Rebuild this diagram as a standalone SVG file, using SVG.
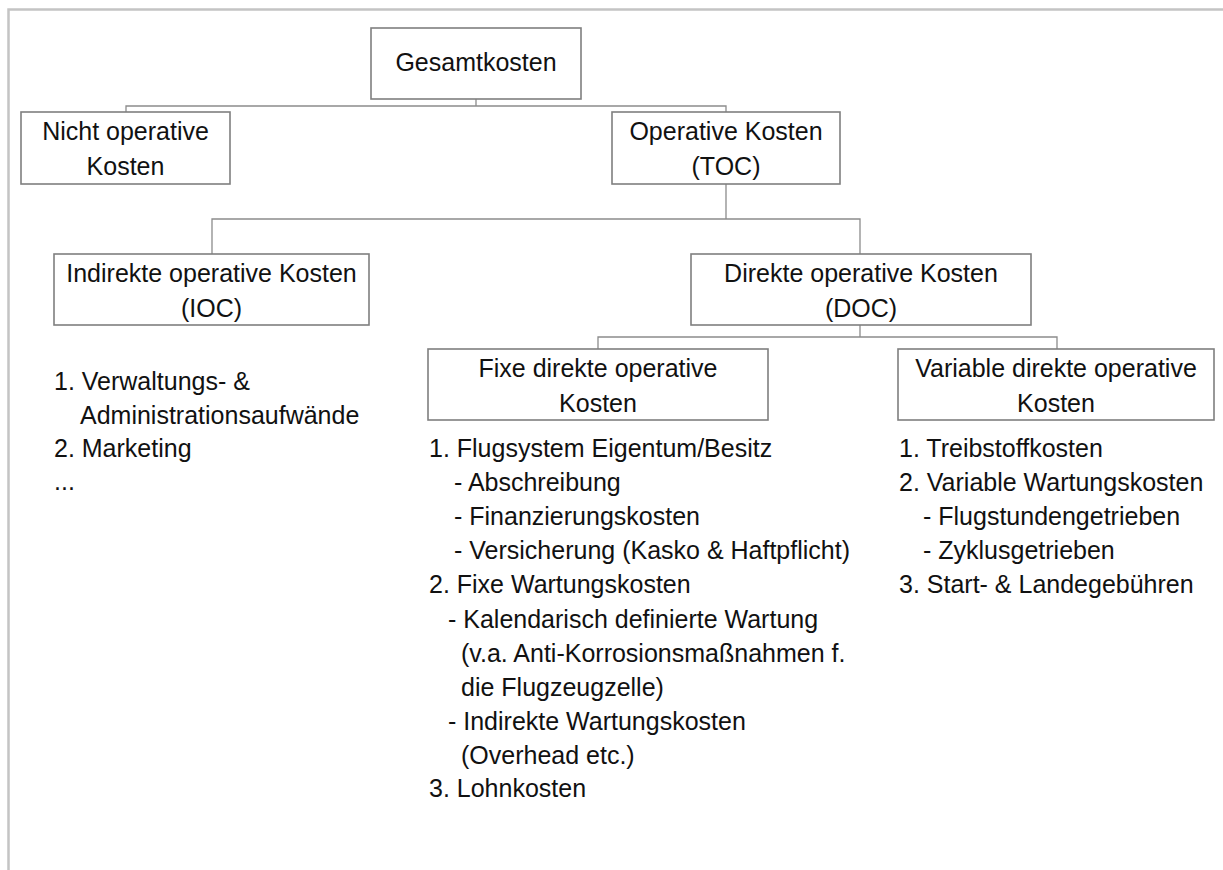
<svg xmlns="http://www.w3.org/2000/svg" width="1223" height="870" viewBox="0 0 1223 870">
<style>
  .frame { stroke: #c4c4c4; stroke-width: 2.5; fill: none; }
  .box { fill: #ffffff; stroke: #7f7f7f; stroke-width: 1.6; }
  .conn { stroke: #8c8c8c; stroke-width: 1.3; fill: none; }
  text { font-family: "Liberation Sans", Arial, sans-serif; font-size: 25px; fill: #111111; }
  .c { text-anchor: middle; }
</style>
<rect width="1223" height="870" fill="#ffffff"/>
<path class="frame" d="M 8.5 870 L 8.5 9.5 L 1223 9.5"/>

<g id="connectors">
  <path class="conn" d="M 476 99 V 106 M 126 112 V 106 H 726 V 112"/>
  <path class="conn" d="M 726 184 V 219 M 212 254 V 219 H 860 V 254"/>
  <path class="conn" d="M 860 325 V 337 M 598 349 V 337 H 1057 V 349"/>
</g>

<g id="gesamtkosten">
  <rect class="box" x="371" y="28" width="210" height="71"/>
  <text class="c" x="476" y="71">Gesamtkosten</text>
</g>

<g id="nicht-operative">
  <rect class="box" x="21" y="112" width="209" height="72"/>
  <text class="c" x="125.5" y="140">Nicht operative</text>
  <text class="c" x="125.5" y="175">Kosten</text>
</g>

<g id="toc">
  <rect class="box" x="612" y="112" width="228" height="72"/>
  <text class="c" x="726" y="140">Operative Kosten</text>
  <text class="c" x="726" y="175">(TOC)</text>
</g>

<g id="ioc">
  <rect class="box" x="54" y="254" width="315" height="71"/>
  <text class="c" x="211.5" y="282">Indirekte operative Kosten</text>
  <text class="c" x="211.5" y="317">(IOC)</text>
</g>

<g id="doc">
  <rect class="box" x="691" y="254" width="340" height="71"/>
  <text class="c" x="861" y="282">Direkte operative Kosten</text>
  <text class="c" x="861" y="317">(DOC)</text>
</g>

<g id="fixe-doc">
  <rect class="box" x="428" y="349" width="340" height="71"/>
  <text class="c" x="598" y="377">Fixe direkte operative</text>
  <text class="c" x="598" y="412">Kosten</text>
</g>

<g id="variable-doc">
  <rect class="box" x="898" y="349" width="316" height="71"/>
  <text class="c" x="1056" y="377">Variable direkte operative</text>
  <text class="c" x="1056" y="412">Kosten</text>
</g>

<g id="ioc-list">
  <text x="54" y="390">1. Verwaltungs- &amp;</text>
  <text x="80" y="424">Administrationsaufwände</text>
  <text x="54" y="457">2. Marketing</text>
  <text x="54" y="490">...</text>
</g>

<g id="fixe-list">
  <text x="429" y="457">1. Flugsystem Eigentum/Besitz</text>
  <text x="454" y="491">- Abschreibung</text>
  <text x="454" y="525">- Finanzierungskosten</text>
  <text x="454" y="559">- Versicherung (Kasko &amp; Haftpflicht)</text>
  <text x="429" y="593">2. Fixe Wartungskosten</text>
  <text x="448" y="628">- Kalendarisch definierte Wartung</text>
  <text x="461" y="662">(v.a. Anti-Korrosionsmaßnahmen f.</text>
  <text x="461" y="696">die Flugzeugzelle)</text>
  <text x="448" y="730">- Indirekte Wartungskosten</text>
  <text x="461" y="764">(Overhead etc.)</text>
  <text x="429" y="797">3. Lohnkosten</text>
</g>

<g id="variable-list">
  <text x="899" y="457">1. Treibstoffkosten</text>
  <text x="899" y="491">2. Variable Wartungskosten</text>
  <text x="923" y="525">- Flugstundengetrieben</text>
  <text x="923" y="559">- Zyklusgetrieben</text>
  <text x="899" y="593">3. Start- &amp; Landegebühren</text>
</g>
</svg>
